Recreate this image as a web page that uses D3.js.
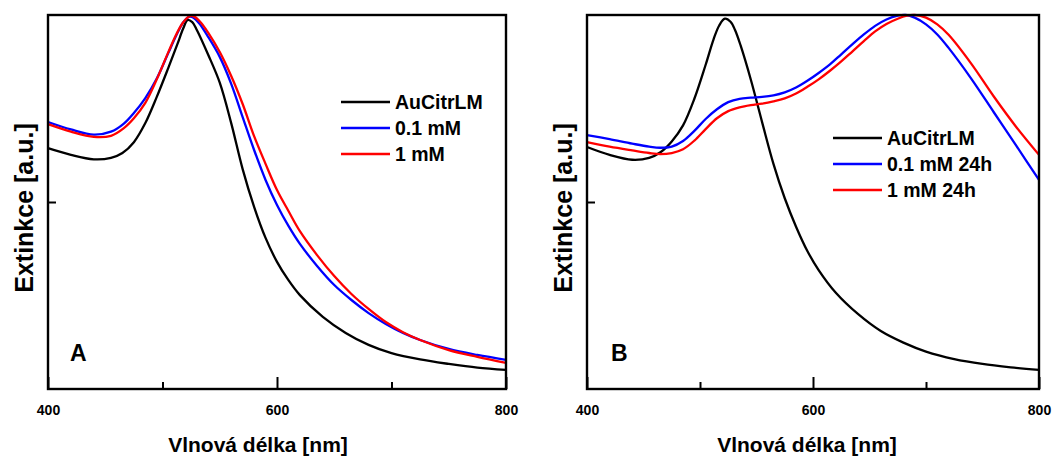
<!DOCTYPE html>
<html><head><meta charset="utf-8">
<script src="https://cdn.jsdelivr.net/npm/d3@7"></script>
<style>body{margin:0;background:#fff}svg{display:block}text{font-family:"Liberation Sans",Arial,sans-serif;font-weight:bold}</style>
</head><body>
<script>
// ---- data (normalized extinction, arbitrary units) ----
const xTicks = [400, 600, 800];
const xMinorTicks = [500, 700];
const yTicks = [0.5];

// Panel A
const wlABlack = [400,420,440,455,465,475,485,495,505,513,518,522,526,530,540,550,560,570,580,590,600,610,620,640,660,680,700,725,750,775,800];
const aBlack   = [0.644,0.626,0.614,0.618,0.631,0.660,0.711,0.781,0.858,0.922,0.963,0.987,0.981,0.960,0.893,0.819,0.711,0.588,0.487,0.404,0.340,0.291,0.251,0.193,0.150,0.118,0.096,0.079,0.067,0.057,0.051];
const wlABlue  = [400,420,440,455,466,475,485,495,505,512,518,523,527,532,540,550,560,570,580,590,600,610,620,635,650,665,680,695,710,725,750,775,800];
const aBlue    = [0.714,0.694,0.680,0.688,0.709,0.738,0.778,0.830,0.898,0.945,0.980,0.995,0.993,0.978,0.941,0.888,0.816,0.727,0.639,0.559,0.492,0.436,0.388,0.329,0.278,0.238,0.203,0.174,0.150,0.131,0.107,0.091,0.078];
const wlARed   = [400,420,440,455,466,475,485,495,505,512,518,524,528,534,540,550,560,570,580,590,600,610,620,635,650,665,680,695,710,725,750,775,800];
const aRed     = [0.708,0.688,0.674,0.677,0.697,0.724,0.765,0.828,0.900,0.948,0.980,0.997,0.995,0.978,0.952,0.901,0.837,0.762,0.676,0.602,0.532,0.476,0.422,0.358,0.302,0.254,0.214,0.179,0.152,0.131,0.104,0.086,0.070];
const legendA = ["AuCitrLM", "0.1 mM", "1 mM"];

// Panel B
const wlBBlack = [400,420,440,455,465,475,485,495,505,512,517,522,527,531,536,545,555,565,575,585,595,605,620,640,660,680,700,725,750,775,800];
const bBlack   = [0.647,0.626,0.613,0.618,0.633,0.662,0.705,0.776,0.867,0.935,0.972,0.990,0.982,0.960,0.918,0.827,0.713,0.602,0.510,0.434,0.369,0.318,0.258,0.200,0.155,0.124,0.100,0.080,0.067,0.058,0.051];
const wlBBlue  = [400,420,440,455,465,475,485,495,505,515,525,535,545,555,565,575,585,595,605,615,625,635,645,655,665,675,682,690,700,710,720,740,760,780,800];
const bBlue    = [0.679,0.668,0.656,0.648,0.645,0.648,0.663,0.690,0.722,0.748,0.767,0.776,0.779,0.781,0.785,0.793,0.806,0.824,0.845,0.868,0.895,0.922,0.948,0.971,0.988,0.998,1.000,0.993,0.975,0.948,0.912,0.830,0.740,0.650,0.559];
const wlBRed   = [400,420,440,455,465,475,485,495,505,515,525,535,545,555,565,575,585,595,605,615,625,635,645,655,665,675,683,690,700,710,720,740,760,780,800];
const bRed     = [0.660,0.648,0.638,0.631,0.628,0.631,0.641,0.664,0.695,0.724,0.743,0.753,0.759,0.763,0.769,0.777,0.790,0.808,0.828,0.851,0.876,0.903,0.930,0.956,0.976,0.990,0.998,1.000,0.993,0.975,0.947,0.870,0.782,0.700,0.626];
const legendB = ["AuCitrLM", "0.1 mM 24h", "1 mM 24h"];

const colors = ["#000000", "#0000ff", "#ff0000"];

const svg = d3.select("body").append("svg").attr("width",1058).attr("height",458);

function panel(cfg){
  const x = d3.scaleLinear().domain([400,800]).range([cfg.x0, cfg.x1]);
  const y = d3.scaleLinear().domain([0,1]).range([389,15]);
  const g = svg.append("g");
  const line = d3.line().x(d=>x(d[0])).y(d=>y(d[1])).curve(d3.curveCatmullRom.alpha(0.5));
  cfg.series.forEach((s,i)=>{
    g.append("path").datum(s.wl.map((w,j)=>[w,s.v[j]]))
      .attr("d",line).attr("fill","none").attr("stroke",colors[i]).attr("stroke-width",2.3);
  });
  // frame
  g.append("rect").attr("x",cfg.x0).attr("y",15).attr("width",cfg.x1-cfg.x0).attr("height",374)
    .attr("fill","none").attr("stroke","#000").attr("stroke-width",2.4);
  // x axis (inward ticks)
  const xa = g.append("g").attr("transform","translate(0,389)")
    .call(d3.axisBottom(x).tickValues(xTicks).tickSize(-12).tickSizeOuter(0).tickPadding(0).tickFormat(d3.format("d")));
  xa.select(".domain").remove();
  xa.selectAll("line").attr("stroke-width",2);
  xa.selectAll("text").attr("font-size",14).attr("fill","#000").attr("dy",null).attr("y",26);
  const xm = g.append("g").attr("transform","translate(0,389)")
    .call(d3.axisBottom(x).tickValues(xMinorTicks).tickSize(-7).tickFormat(""));
  xm.select(".domain").remove();
  xm.selectAll("line").attr("stroke-width",2);
  // y axis
  const ya = g.append("g").attr("transform",`translate(${cfg.x0},0)`)
    .call(d3.axisLeft(y).tickValues(yTicks).tickSize(-8).tickFormat(""));
  ya.select(".domain").remove();
  ya.selectAll("line").attr("stroke-width",2);
  // titles
  g.append("text").attr("x",cfg.titleX).attr("y",452).attr("text-anchor","middle")
    .attr("font-size",21).text("Vlnová délka [nm]");
  g.append("text").attr("transform",`translate(${cfg.x0-15},208) rotate(-90)`).attr("text-anchor","middle")
    .attr("font-size",25).text("Extinkce [a.u.]");
  g.append("text").attr("x",cfg.labelX).attr("y",361).attr("font-size",23).text(cfg.label);
  // legend
  cfg.legend.forEach((t,i)=>{
    const ly = cfg.legY + i*26;
    g.append("line").attr("x1",cfg.legX).attr("x2",cfg.legX+49).attr("y1",ly).attr("y2",ly)
      .attr("stroke",colors[i]).attr("stroke-width",2.3);
    g.append("text").attr("x",cfg.legX+54).attr("y",ly+6.8).attr("font-size",19.5).text(t);
  });
}

panel({x0:48, x1:506, titleX:258, labelX:70, label:"A", legX:341, legY:102, legend:legendA,
  series:[{wl:wlABlack,v:aBlack},{wl:wlABlue,v:aBlue},{wl:wlARed,v:aRed}]});
panel({x0:587, x1:1039, titleX:807, labelX:611, label:"B", legX:833, legY:138, legend:legendB,
  series:[{wl:wlBBlack,v:bBlack},{wl:wlBBlue,v:bBlue},{wl:wlBRed,v:bRed}]});
</script>
</body></html>
